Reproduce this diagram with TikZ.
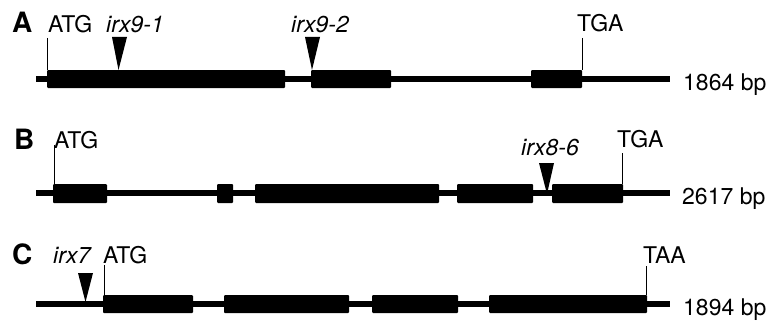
\documentclass[tikz,border=0pt]{standalone}
\usepackage{fontspec}
\setmainfont{TeX Gyre Heros}
\begin{document}
\begin{tikzpicture}[x=1pt,y=-1pt,
  lbl/.style={anchor=base west,inner sep=0pt,font=\fontsize{23}{26}\selectfont},
  mutlbl/.style={lbl,font=\fontsize{23}{26}\selectfont\itshape},
  panel/.style={lbl,font=\fontsize{28}{30}\selectfont\bfseries},
  backbone/.style={line width=6pt},
  tick/.style={line width=1pt},
  mut/.style={fill=black},
  exon/.style={fill=black,rounded corners=1pt}]
\useasboundingbox (0,0) rectangle (773,321);
% ---------- A ----------
\draw[backbone] (36,79) coordinate (a0) -- (670,79) coordinate (a1);
\fill[exon] (47,70) rectangle (285,88);
\fill[exon] (311,70) rectangle (391,88);
\fill[exon] (531,70) rectangle (582,88);
\node[panel] (pA) at (12,33) {A};
\node[lbl] (atgA) at (48,33) {ATG};
\node[lbl] (tgaA) at (577,32) {TGA};
\node[mutlbl] (m91) at (106,33) {irx9-1};
\node[mutlbl] (m92) at (291,33) {irx9-2};
\node[lbl] (bpA) at (683,90) {1864 bp};
\draw[tick] (47,38) -- (47,70);
\draw[tick] (582,38) -- (582,70);
\fill[mut] (112,37) -- (127,37) -- (118.5,70) -- cycle;
\fill[mut] (305,37) -- (320,37) -- (312,70) -- cycle;
% ---------- B ----------
\draw[backbone] (36,193) coordinate (b0) -- (670,193) coordinate (b1);
\fill[exon] (53,184) rectangle (107,203);
\fill[exon] (217,184) rectangle (233,203);
\fill[exon] (255,184) rectangle (439,203);
\fill[exon] (457,184) rectangle (533,203);
\fill[exon] (552,184) rectangle (623,203);
\node[panel] (pB) at (14,149) {B};
\node[lbl] (atgB) at (54,148) {ATG};
\node[lbl] (tgaB) at (617,147) {TGA};
\node[mutlbl] (m86) at (521,155) {irx8-6};
\node[lbl] (bpB) at (682,204) {2617 bp};
\draw[tick] (54,145) -- (54,184);
\draw[tick] (622,153) -- (622,184);
\fill[mut] (539,163) -- (554,163) -- (547,194) -- cycle;
% ---------- C ----------
\draw[backbone] (36,304) coordinate (c0) -- (670,304) coordinate (c1);
\fill[exon] (103,295) rectangle (193,313);
\fill[exon] (224,295) rectangle (349,313);
\fill[exon] (372,295) rectangle (458,313);
\fill[exon] (489,295) rectangle (647,313);
\node[panel] (pC) at (12,264) {C};
\node[mutlbl] (m7) at (53,263) {irx7};
\node[lbl] (atgC) at (103,263) {ATG};
\node[lbl] (taaC) at (643,263) {TAA};
\node[lbl] (bpC) at (683,315) {1894 bp};
\draw[tick] (104,265) -- (104,295);
\draw[tick] (646,266) -- (646,295);
\fill[mut] (78,273) -- (93,273) -- (85.5,302) -- cycle;
\end{tikzpicture}
\end{document}
